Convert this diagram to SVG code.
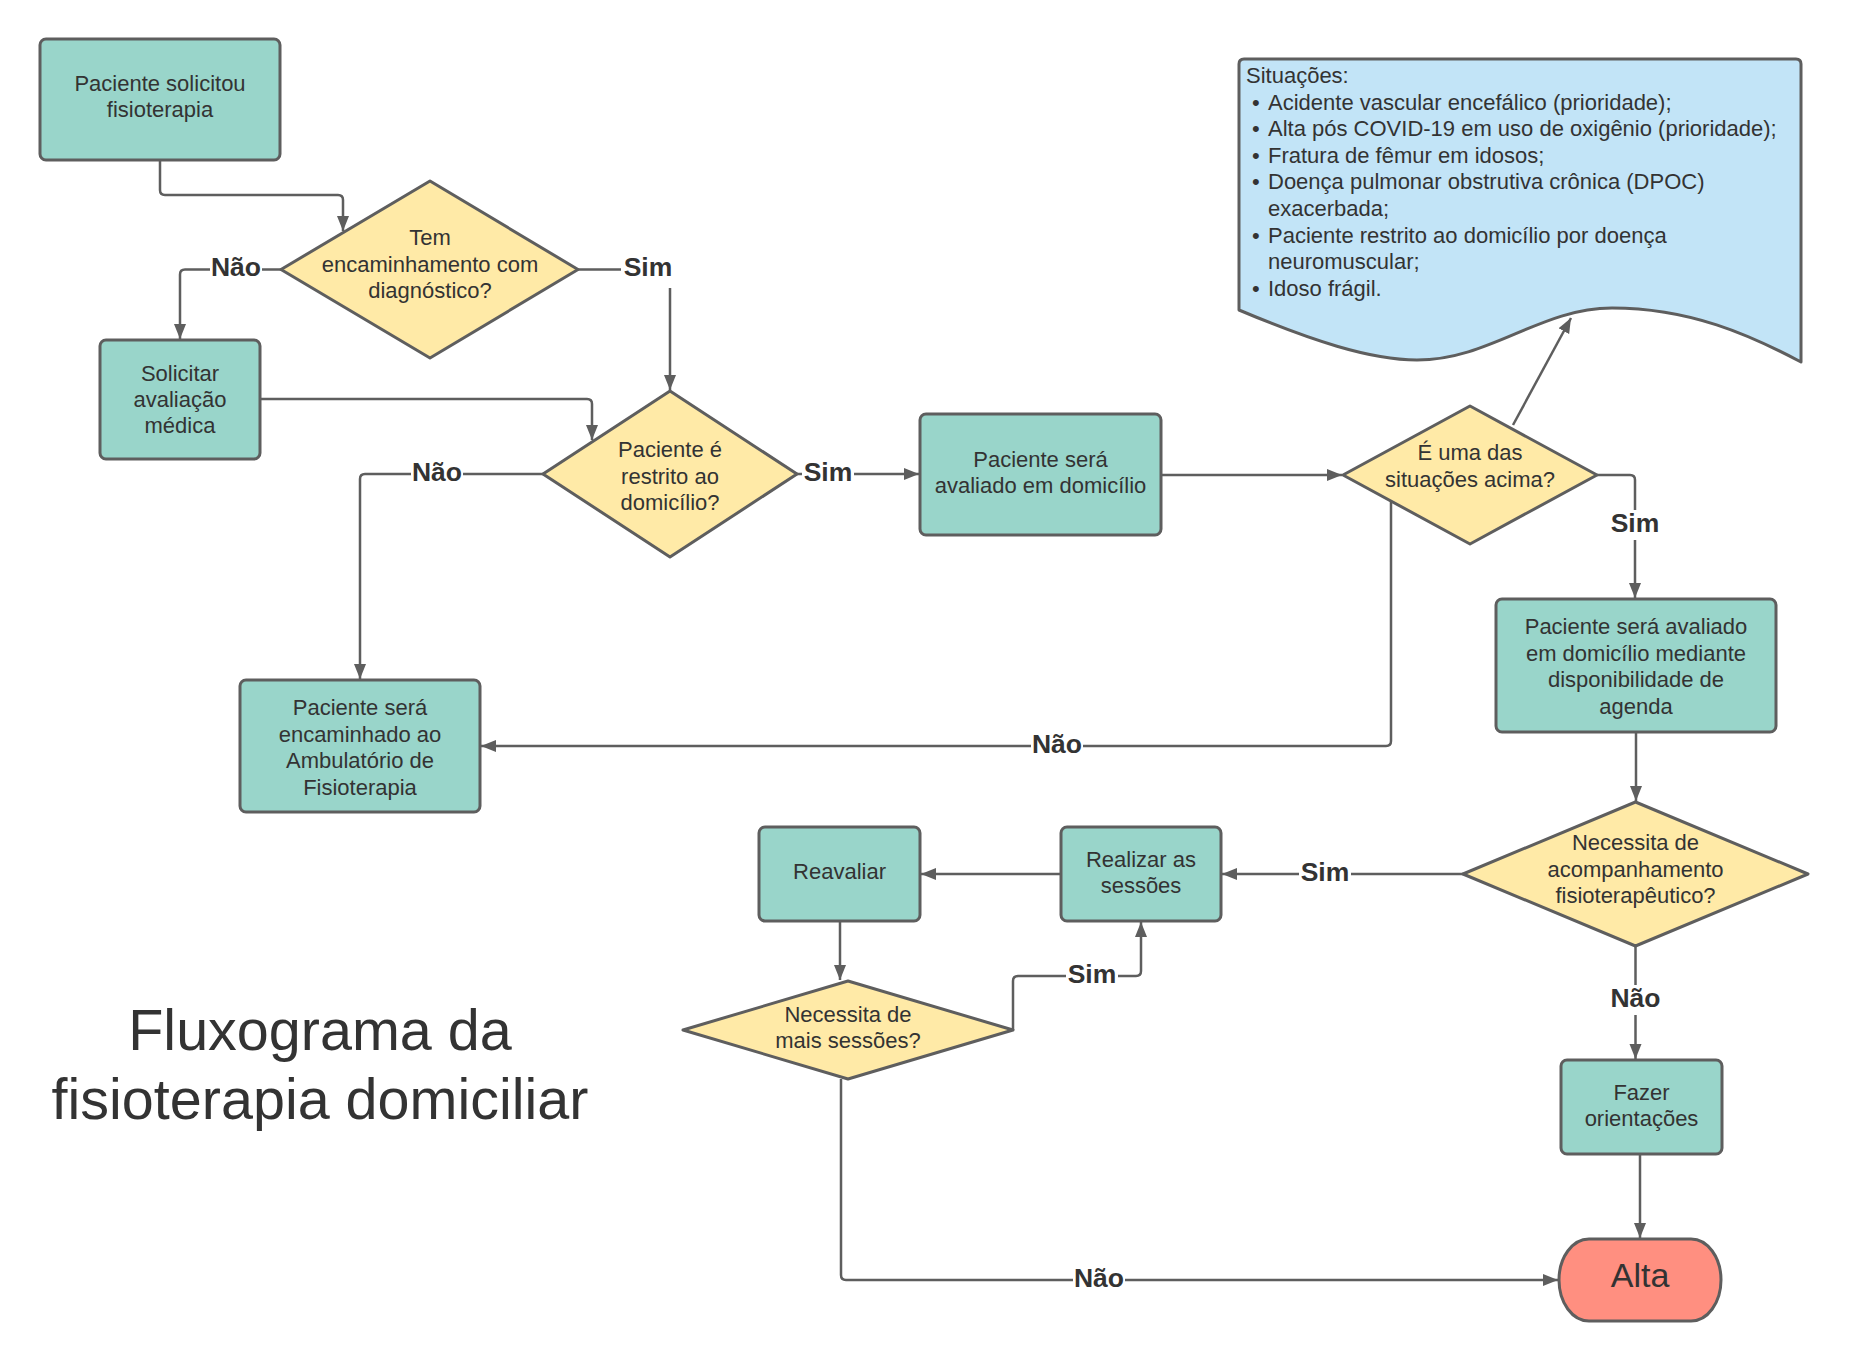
<svg xmlns="http://www.w3.org/2000/svg" width="1849" height="1360" viewBox="0 0 1849 1360">
<defs>
<marker id="arr" markerUnits="userSpaceOnUse" markerWidth="16" markerHeight="14" viewBox="0 0 16 14" refX="15" refY="7" orient="auto"><path d="M0,1 L15,7 L0,13 Z" fill="#5E5E5E"/></marker>
<style>
.proc{fill:#99D5CA;stroke:#5E5E5E;stroke-width:3}
.dec{fill:#FFEAA7;stroke:#5E5E5E;stroke-width:3;stroke-linejoin:round}
.doc{fill:#C2E4F7;stroke:#5E5E5E;stroke-width:3;stroke-linejoin:round}
.end{fill:#FF8F80;stroke:#5E5E5E;stroke-width:3}
.t{font-family:"Liberation Sans",Arial,sans-serif;font-size:22px;fill:#333333;text-anchor:middle}
.ts{font-family:"Liberation Sans",Arial,sans-serif;font-size:22px;fill:#333333}
.lbl{font-family:"Liberation Sans",Arial,sans-serif;font-size:26.5px;font-weight:bold;fill:#333333;text-anchor:middle}
.lb{fill:#ffffff}
.c{fill:none;stroke:#5E5E5E;stroke-width:2.5;marker-end:url(#arr)}
.title{font-family:"Liberation Sans",Arial,sans-serif;font-size:57.5px;fill:#333333;text-anchor:middle}
</style>
</defs>
<rect width="1849" height="1360" fill="#ffffff"/>

<g id="connectors">
<path class="c" d="M160,160 V190 Q160,195 165,195 H338 Q343,195 343,200 V231"/>
<path class="c" d="M281,269.5 H185 Q180,269.5 180,274.5 V339"/>
<path class="c" d="M578,269.5 H665 Q670,269.5 670,274.5 V390"/>
<path class="c" d="M260,399 H587 Q592,399 592,404 V440"/>
<path class="c" d="M543,474 H365 Q360,474 360,479 V679"/>
<path class="c" d="M797,474 H919"/>
<path class="c" d="M1161,475 H1342"/>
<path class="c" d="M1513,425 L1571,318"/>
<path class="c" d="M1391,501 V741 Q1391,746 1386,746 H481"/>
<path class="c" d="M1597,475 H1630 Q1635,475 1635,480 V598"/>
<path class="c" d="M1636,732 V801"/>
<path class="c" d="M1463,874 H1222"/>
<path class="c" d="M1061,874 H921"/>
<path class="c" d="M840,921 V980"/>
<path class="c" d="M1013,1030 V981 Q1013,976 1018,976 H1136 Q1141,976 1141,971 V922"/>
<path class="c" d="M841,1079 V1275 Q841,1280 846,1280 H1558"/>
<path class="c" d="M1635.5,946 V1059"/>
<path class="c" d="M1640,1154 V1238"/>
<g id="labels">
<rect class="lb" x="210" y="255" width="52" height="29"/><text class="lbl" x="236" y="276">Não</text>
<rect class="lb" x="621" y="252" width="54" height="36"/><text class="lbl" x="648" y="276">Sim</text>
<rect class="lb" x="411" y="460" width="52" height="29"/><text class="lbl" x="437" y="480.5">Não</text>
<rect class="lb" x="802" y="460" width="52" height="29"/><text class="lbl" x="828" y="480.5">Sim</text>
<rect class="lb" x="1031" y="732" width="52" height="29"/><text class="lbl" x="1057" y="752.5">Não</text>
<rect class="lb" x="1609" y="510" width="52" height="30"/><text class="lbl" x="1635" y="531.5">Sim</text>
<rect class="lb" x="1299" y="860" width="52" height="29"/><text class="lbl" x="1325" y="880.5">Sim</text>
<rect class="lb" x="1609.5" y="985" width="52" height="30"/><text class="lbl" x="1635.5" y="1006.5">Não</text>
<rect class="lb" x="1066" y="962" width="52" height="29"/><text class="lbl" x="1092" y="982.5">Sim</text>
<rect class="lb" x="1073" y="1266" width="52" height="29"/><text class="lbl" x="1099" y="1286.5">Não</text>
</g>
</g>

<g id="n1"><rect class="proc" x="40" y="39" width="240" height="121" rx="6"/>
<text class="t" x="160" y="91">Paciente solicitou</text><text class="t" x="160" y="117">fisioterapia</text></g>

<g id="d1"><polygon class="dec" points="281,269.5 430,181 578,269.5 430,358"/>
<text class="t" x="430" y="245">Tem</text><text class="t" x="430" y="271.5">encaminhamento com</text><text class="t" x="430" y="298">diagnóstico?</text></g>

<g id="n2"><rect class="proc" x="100" y="340" width="160" height="119" rx="6"/>
<text class="t" x="180" y="380.5">Solicitar</text><text class="t" x="180" y="406.5">avaliação</text><text class="t" x="180" y="432.5">médica</text></g>

<g id="d2"><polygon class="dec" points="543,474 670,391 797,474 670,557"/>
<text class="t" x="670" y="457">Paciente é</text><text class="t" x="670" y="484">restrito ao</text><text class="t" x="670" y="510">domicílio?</text></g>

<g id="n3"><rect class="proc" x="240" y="680" width="240" height="132" rx="6"/>
<text class="t" x="360" y="715">Paciente será</text><text class="t" x="360" y="741.5">encaminhado ao</text><text class="t" x="360" y="768">Ambulatório de</text><text class="t" x="360" y="794.5">Fisioterapia</text></g>

<g id="n4"><rect class="proc" x="920" y="414" width="241" height="121" rx="6"/>
<text class="t" x="1040.5" y="467">Paciente será</text><text class="t" x="1040.5" y="493">avaliado em domicílio</text></g>

<g id="d3"><polygon class="dec" points="1343,475 1470,406 1597,475 1470,544"/>
<text class="t" x="1470" y="460">É uma das</text><text class="t" x="1470" y="487">situações acima?</text></g>

<g id="doc"><path class="doc" d="M1239,64 Q1239,59 1244,59 H1796 Q1801,59 1801,64 V362 C1750,335 1690,308 1612,308 C1540,308 1490,360 1417,360 C1370,360 1310,340 1239,310 Z"/>
<text class="ts" x="1246" y="83">Situações:</text>
<text class="ts" x="1252" y="109.6">•</text><text class="ts" x="1268" y="109.6">Acidente vascular encefálico (prioridade);</text>
<text class="ts" x="1252" y="136.2">•</text><text class="ts" x="1268" y="136.2">Alta pós COVID-19 em uso de oxigênio (prioridade);</text>
<text class="ts" x="1252" y="162.8">•</text><text class="ts" x="1268" y="162.8">Fratura de fêmur em idosos;</text>
<text class="ts" x="1252" y="189.4">•</text><text class="ts" x="1268" y="189.4">Doença pulmonar obstrutiva crônica (DPOC)</text>
<text class="ts" x="1268" y="216">exacerbada;</text>
<text class="ts" x="1252" y="242.6">•</text><text class="ts" x="1268" y="242.6">Paciente restrito ao domicílio por doença</text>
<text class="ts" x="1268" y="269.2">neuromuscular;</text>
<text class="ts" x="1252" y="295.8">•</text><text class="ts" x="1268" y="295.8">Idoso frágil.</text></g>

<g id="n5"><rect class="proc" x="1496" y="599" width="280" height="133" rx="6"/>
<text class="t" x="1636" y="634">Paciente será avaliado</text><text class="t" x="1636" y="660.5">em domicílio mediante</text><text class="t" x="1636" y="687">disponibilidade de</text><text class="t" x="1636" y="713.5">agenda</text></g>

<g id="d4"><polygon class="dec" points="1463,874 1635.5,802 1808,874 1635.5,946"/>
<text class="t" x="1635.5" y="850">Necessita de</text><text class="t" x="1635.5" y="877">acompanhamento</text><text class="t" x="1635.5" y="903">fisioterapêutico?</text></g>

<g id="n6"><rect class="proc" x="1061" y="827" width="160" height="94" rx="6"/>
<text class="t" x="1141" y="867">Realizar as</text><text class="t" x="1141" y="893">sessões</text></g>

<g id="n7"><rect class="proc" x="759" y="827" width="161" height="94" rx="6"/>
<text class="t" x="839.5" y="879">Reavaliar</text></g>

<g id="d5"><polygon class="dec" points="683,1030 848,981 1013,1030 848,1079"/>
<text class="t" x="848" y="1022">Necessita de</text><text class="t" x="848" y="1048">mais sessões?</text></g>

<g id="n8"><rect class="proc" x="1561" y="1060" width="161" height="94" rx="6"/>
<text class="t" x="1641.5" y="1099.5">Fazer</text><text class="t" x="1641.5" y="1125.5">orientações</text></g>

<g id="alta"><rect class="end" x="1559" y="1239" width="162" height="82" rx="30" ry="41"/>
<text class="t" x="1640" y="1287" style="font-size:34px">Alta</text></g>

<g id="title"><text class="title" x="320" y="1050">Fluxograma da</text><text class="title" x="320" y="1119">fisioterapia domiciliar</text></g>
</svg>
